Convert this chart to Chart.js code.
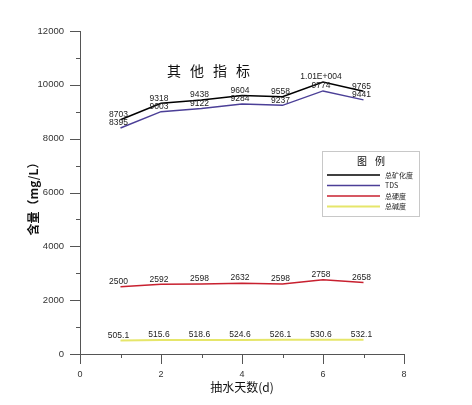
<!DOCTYPE html>
<html>
<head>
<meta charset="utf-8">
<script src="https://cdn.jsdelivr.net/npm/chart.js@4/dist/chart.umd.min.js"></script>
<style>
  html, body { margin: 0; padding: 0; background: #fff; }
  #wrap { width: 472px; height: 405px; position: relative; }
</style>
</head>
<body>
<div id="wrap"><canvas id="chart" width="472" height="405"></canvas></div>
<script>
// pumping days
const days = [1, 2, 3, 4, 5, 6, 7];

// series values (mg/L)
const totalMineral = [8703, 9318, 9438, 9604, 9558, 10100, 9765];
const tds = [8395, 9003, 9122, 9284, 9237, 9774, 9441];
const hardness = [2500, 2592, 2598, 2632, 2598, 2758, 2658];
const alkalinity = [505.1, 515.6, 518.6, 524.6, 526.1, 530.6, 532.1];

const seriesNames = ['总矿化度', 'TDS', '总硬度', '总碱度'];
const seriesColors = ['#000000', '#4b3f97', '#c8202f', '#e6e66a'];

const yTickLabels = [0, 2000, 4000, 6000, 8000, 10000, 12000];
const xTickLabels = [0, 2, 4, 6, 8];

function fmt(v) {
    if (v >= 10000) {
        const [m, e] = v.toExponential(2).split('e');
        const exp = parseInt(e, 10);
        return m + 'E' + (exp >= 0 ? '+' : '-') + String(Math.abs(exp)).padStart(3, '0');
    }
    return String(v);
}

const toPoints = arr => arr.map((v, i) => ({ x: days[i], y: v }));

// tick marks: long at labelled values, short between
const tickMarks = {
    id: 'tickMarks',
    afterDraw(chart) {
        const ctx = chart.ctx;
        const xs = chart.scales.x, ys = chart.scales.y;
        ctx.save();
        ctx.strokeStyle = '#555';
        ctx.lineWidth = 1;
        ctx.beginPath();
        for (let v = 0; v <= 12000; v += 1000) {
            const py = Math.round(ys.getPixelForValue(v)) + 0.5;
            const len = yTickLabels.includes(v) ? 10 : 4;
            ctx.moveTo(xs.left - len, py);
            ctx.lineTo(xs.left, py);
        }
        for (let v = 0; v <= 8; v += 1) {
            const px = Math.round(xs.getPixelForValue(v)) + 0.5;
            const len = xTickLabels.includes(v) ? 10 : 4;
            ctx.moveTo(px, ys.bottom);
            ctx.lineTo(px, ys.bottom + len);
        }
        ctx.stroke();
        ctx.restore();
    }
};

// value labels above each point
const valueLabels = {
    id: 'valueLabels',
    afterDatasetsDraw(chart) {
        const ctx = chart.ctx;
        ctx.save();
        ctx.font = '8.5px "Liberation Sans", Arial, sans-serif';
        ctx.fillStyle = '#222';
        ctx.textAlign = 'center';
        ctx.textBaseline = 'middle';
        chart.data.datasets.forEach((ds, i) => {
            const meta = chart.getDatasetMeta(i);
            meta.data.forEach((pt, j) => {
                ctx.fillText(fmt(ds.data[j].y), pt.x - 2, pt.y - 5);
            });
        });
        ctx.restore();
    }
};

// title, axis titles and legend box
const decorations = {
    id: 'decorations',
    afterDraw(chart) {
        const ctx = chart.ctx;
        const xs = chart.scales.x;
        ctx.save();
        ctx.fillStyle = '#111';
        ctx.font = '14px "Noto Sans CJK SC", sans-serif';
        ctx.textBaseline = 'middle';
        ctx.textAlign = 'center';
        const title = '其他指标';
        for (let k = 0; k < title.length; k++) {
            ctx.fillText(title[k], 174 + k * 23, 71);
        }

        // axis titles
        ctx.font = '12px "Noto Sans CJK SC", sans-serif';
        ctx.fillText('抽水天数(d)', (xs.left + xs.right) / 2, 387);
        ctx.save();
        ctx.translate(33, 196);
        ctx.rotate(-Math.PI / 2);
        ctx.font = 'bold 12px "Noto Sans CJK SC", sans-serif';
        ctx.fillText('含量（mg/L）', 0, 0);
        ctx.restore();

        // legend
        ctx.fillStyle = '#fff';
        ctx.fillRect(322.5, 151.5, 97, 65);
        ctx.strokeStyle = '#c8c8c8';
        ctx.lineWidth = 1;
        ctx.strokeRect(322.5, 151.5, 97, 65);
        ctx.fillStyle = '#111';
        ctx.font = '10px "Noto Sans CJK SC", sans-serif';
        ctx.fillText('图', 362, 161);
        ctx.fillText('例', 380, 161);
        const rows = [175, 185.5, 196, 206.5];
        ctx.textAlign = 'left';
        ctx.font = '7px "Noto Sans CJK SC", "Liberation Sans", sans-serif';
        seriesNames.forEach((name, i) => {
            ctx.strokeStyle = seriesColors[i];
            ctx.lineWidth = i === 3 ? 2 : 1.5;
            ctx.beginPath();
            ctx.moveTo(327, rows[i]);
            ctx.lineTo(380, rows[i]);
            ctx.stroke();
            ctx.fillStyle = '#222';
            ctx.fillText(name, 385, rows[i]);
        });
        ctx.restore();
    }
};

const datasets = [totalMineral, tds, hardness, alkalinity].map((arr, i) => ({
    label: seriesNames[i],
    data: toPoints(arr),
    borderColor: seriesColors[i],
    backgroundColor: seriesColors[i],
    borderWidth: i === 3 ? 2 : 1.5,
    pointRadius: 0,
    tension: 0,
    fill: false
}));

new Chart(document.getElementById('chart'), {
    type: 'line',
    data: { datasets },
    options: {
        responsive: false,
        animation: false,
        layout: { padding: { left: 0, top: 31, right: 68, bottom: 0 } },
        plugins: {
            legend: { display: false },
            tooltip: { enabled: false }
        },
        scales: {
            x: {
                type: 'linear',
                min: 0,
                max: 8,
                grid: { display: false, drawTicks: false },
                border: { display: true, color: '#555', width: 1 },
                ticks: {
                    stepSize: 1,
                    padding: 15,
                    color: '#333',
                    font: { size: 9, family: '"Liberation Sans", Arial, sans-serif' },
                    maxRotation: 0,
                    autoSkip: false,
                    callback: v => xTickLabels.includes(v) ? String(v) : ''
                },
                afterFit: s => { s.height = 51; }
            },
            y: {
                min: 0,
                max: 12000,
                grid: { display: false, drawTicks: false },
                border: { display: true, color: '#555', width: 1 },
                ticks: {
                    stepSize: 1000,
                    padding: 16,
                    color: '#333',
                    font: { size: 9.5, family: '"Liberation Sans", Arial, sans-serif' },
                    autoSkip: false,
                    callback: v => yTickLabels.includes(v) ? String(v) : ''
                },
                afterFit: s => { s.width = 80; }
            }
        }
    },
    plugins: [tickMarks, valueLabels, decorations]
});
</script>
</body>
</html>
